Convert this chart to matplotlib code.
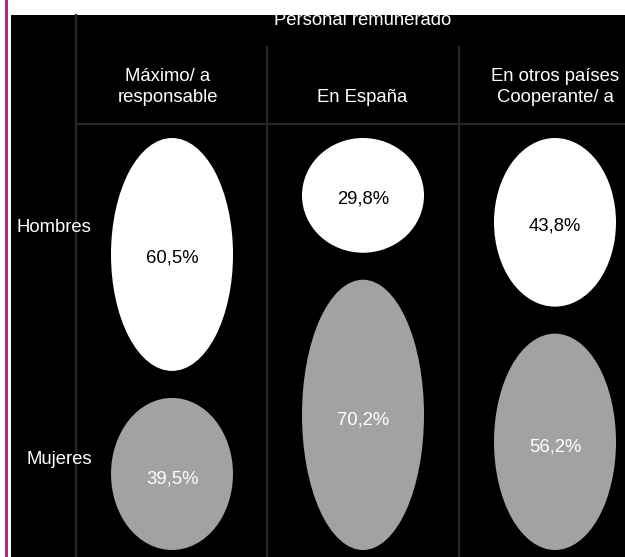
import matplotlib.pyplot as plt
from matplotlib.patches import Ellipse, Rectangle

plt.rcParams['font.family'] = ['Liberation Sans', 'DejaVu Sans']

# datos
titulo = "Personal remunerado"
columnas = ["Máximo/ a\nresponsable", "En España", "En otros países\nCooperante/ a"]
filas = ["Hombres", "Mujeres"]
hombres = [60.5, 29.8, 43.8]
mujeres = [39.5, 70.2, 56.2]

W, H = 625, 557
fig = plt.figure(figsize=(W / 100, H / 100), dpi=100)
ax = fig.add_axes([0, 0, 1, 1])
ax.set_xlim(0, W)
ax.set_ylim(H, 0)
ax.axis('off')

fs = 13.3

# franja magenta y fondo negro
ax.add_patch(Rectangle((5, 0), 2.6, H, color='#b3287f', lw=0))
fondo = Rectangle((11, 15), W - 11, H - 15, color='black', lw=0)
ax.add_patch(fondo)

# lineas de la tabla
gris_linea = '#262626'
ax.plot([76, 76], [15, H], color=gris_linea, lw=1.6)
for x in [267, 459]:
    ax.plot([x, x], [47, H], color=gris_linea, lw=1.6)
ax.plot([76, W], [124, 124], color=gris_linea, lw=1.6)

# titulo (recortado por el borde superior)
t = ax.text(363, 25, titulo, color='white', fontsize=fs, ha='center', va='baseline')
t.set_clip_path(fondo)

centros_x = [172, 363, 555]
header_x = [168, 362, 555]
for cx, lab in zip(header_x, columnas):
    cy = 87 if '\n' in lab else 97
    ax.text(cx, cy, lab, color='white', fontsize=fs, ha='center', va='center',
            linespacing=1.35)

ax.text(16, 227, filas[0], color='white', fontsize=fs, ha='left', va='center')
ax.text(27, 459, filas[1], color='white', fontsize=fs, ha='left', va='center')

# elipses: alto proporcional al porcentaje
k = 3.85
ancho = 122
arriba = 138
abajo = 550
for cx, h_val, m_val in zip(centros_x, hombres, mujeres):
    hh = h_val * k
    cy = arriba + hh / 2
    ax.add_patch(Ellipse((cx, cy), ancho, hh, color='white', lw=0))
    ax.text(cx, cy + 4, f"{h_val:.1f}%".replace('.', ','), color='black',
            fontsize=fs, ha='center', va='center')
    hm = m_val * k
    cy = abajo - hm / 2
    ax.add_patch(Ellipse((cx, cy), ancho, hm, color='#a2a2a2', lw=0))
    ax.text(cx, cy + 5, f"{m_val:.1f}%".replace('.', ','), color='white',
            fontsize=fs, ha='center', va='center')

fig.savefig('out.png', dpi=100, facecolor='white')
